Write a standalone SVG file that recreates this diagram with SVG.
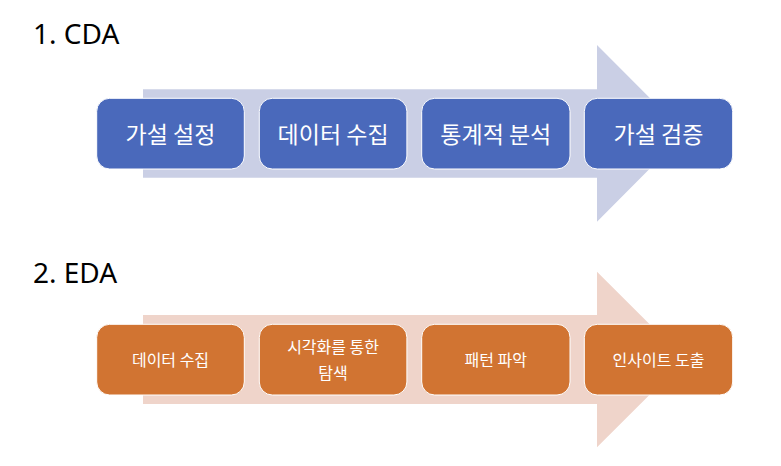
<svg xmlns="http://www.w3.org/2000/svg" width="781" height="466" viewBox="0 0 781 466">
<style>
.title{font-family:"Noto Sans","Noto Sans CJK KR",sans-serif;font-size:28px;fill:#000}
.lbl{font-family:"Noto Sans CJK KR","Noto Sans",sans-serif;fill:#fff;text-anchor:middle;dominant-baseline:central}
.big{font-size:23px}
.small{font-size:16px}
.cda{fill:#4A69BB;stroke:#fff;stroke-width:1}
.eda{fill:#D17432;stroke:#fff;stroke-width:1}
</style>
<rect width="781" height="466" fill="#fff"/>
<text class="title" x="33" y="43.5">1. CDA</text>
<text class="title" x="33" y="282.7">2. EDA</text>
<g id="connectors">
<polygon points="143,89.3 597,89.3 597,45 685,133.3 597,221.7 597,177.7 143,177.7" fill="#CACFE5"/>
<polygon points="143,315 597,315 597,271.7 685,359.5 597,447.3 597,404 143,404" fill="#EFD4CA"/>
</g>
<g id="cda1"><rect class="cda" x="96.7" y="98.3" width="147.6" height="70.7" rx="13"/><text class="lbl big" x="170.5" y="133">가설 설정</text></g>
<g id="cda2"><rect class="cda" x="259.3" y="98.3" width="147.6" height="70.7" rx="13"/><text class="lbl big" x="333.1" y="133">데이터 수집</text></g>
<g id="cda3"><rect class="cda" x="421.7" y="98.3" width="148.3" height="70.7" rx="13"/><text class="lbl big" x="495.8" y="133">통계적 분석</text></g>
<g id="cda4"><rect class="cda" x="584.3" y="98.3" width="148.4" height="70.7" rx="13"/><text class="lbl big" x="658.5" y="133">가설 검증</text></g>
<g id="eda1"><rect class="eda" x="96.7" y="324.3" width="147.6" height="70.7" rx="13"/><text class="lbl small" x="170.5" y="358.5">데이터 수집</text></g>
<g id="eda2"><rect class="eda" x="259.3" y="324.3" width="147.6" height="70.7" rx="13"/><text class="lbl small" x="333.1" y="346">시각화를 통한</text><text class="lbl small" x="333.1" y="371.5">탐색</text></g>
<g id="eda3"><rect class="eda" x="421.7" y="324.3" width="148.3" height="70.7" rx="13"/><text class="lbl small" x="495.8" y="358.5">패턴 파악</text></g>
<g id="eda4"><rect class="eda" x="584.3" y="324.3" width="148.4" height="70.7" rx="13"/><text class="lbl small" x="658.5" y="358.5">인사이트 도출</text></g>
</svg>
